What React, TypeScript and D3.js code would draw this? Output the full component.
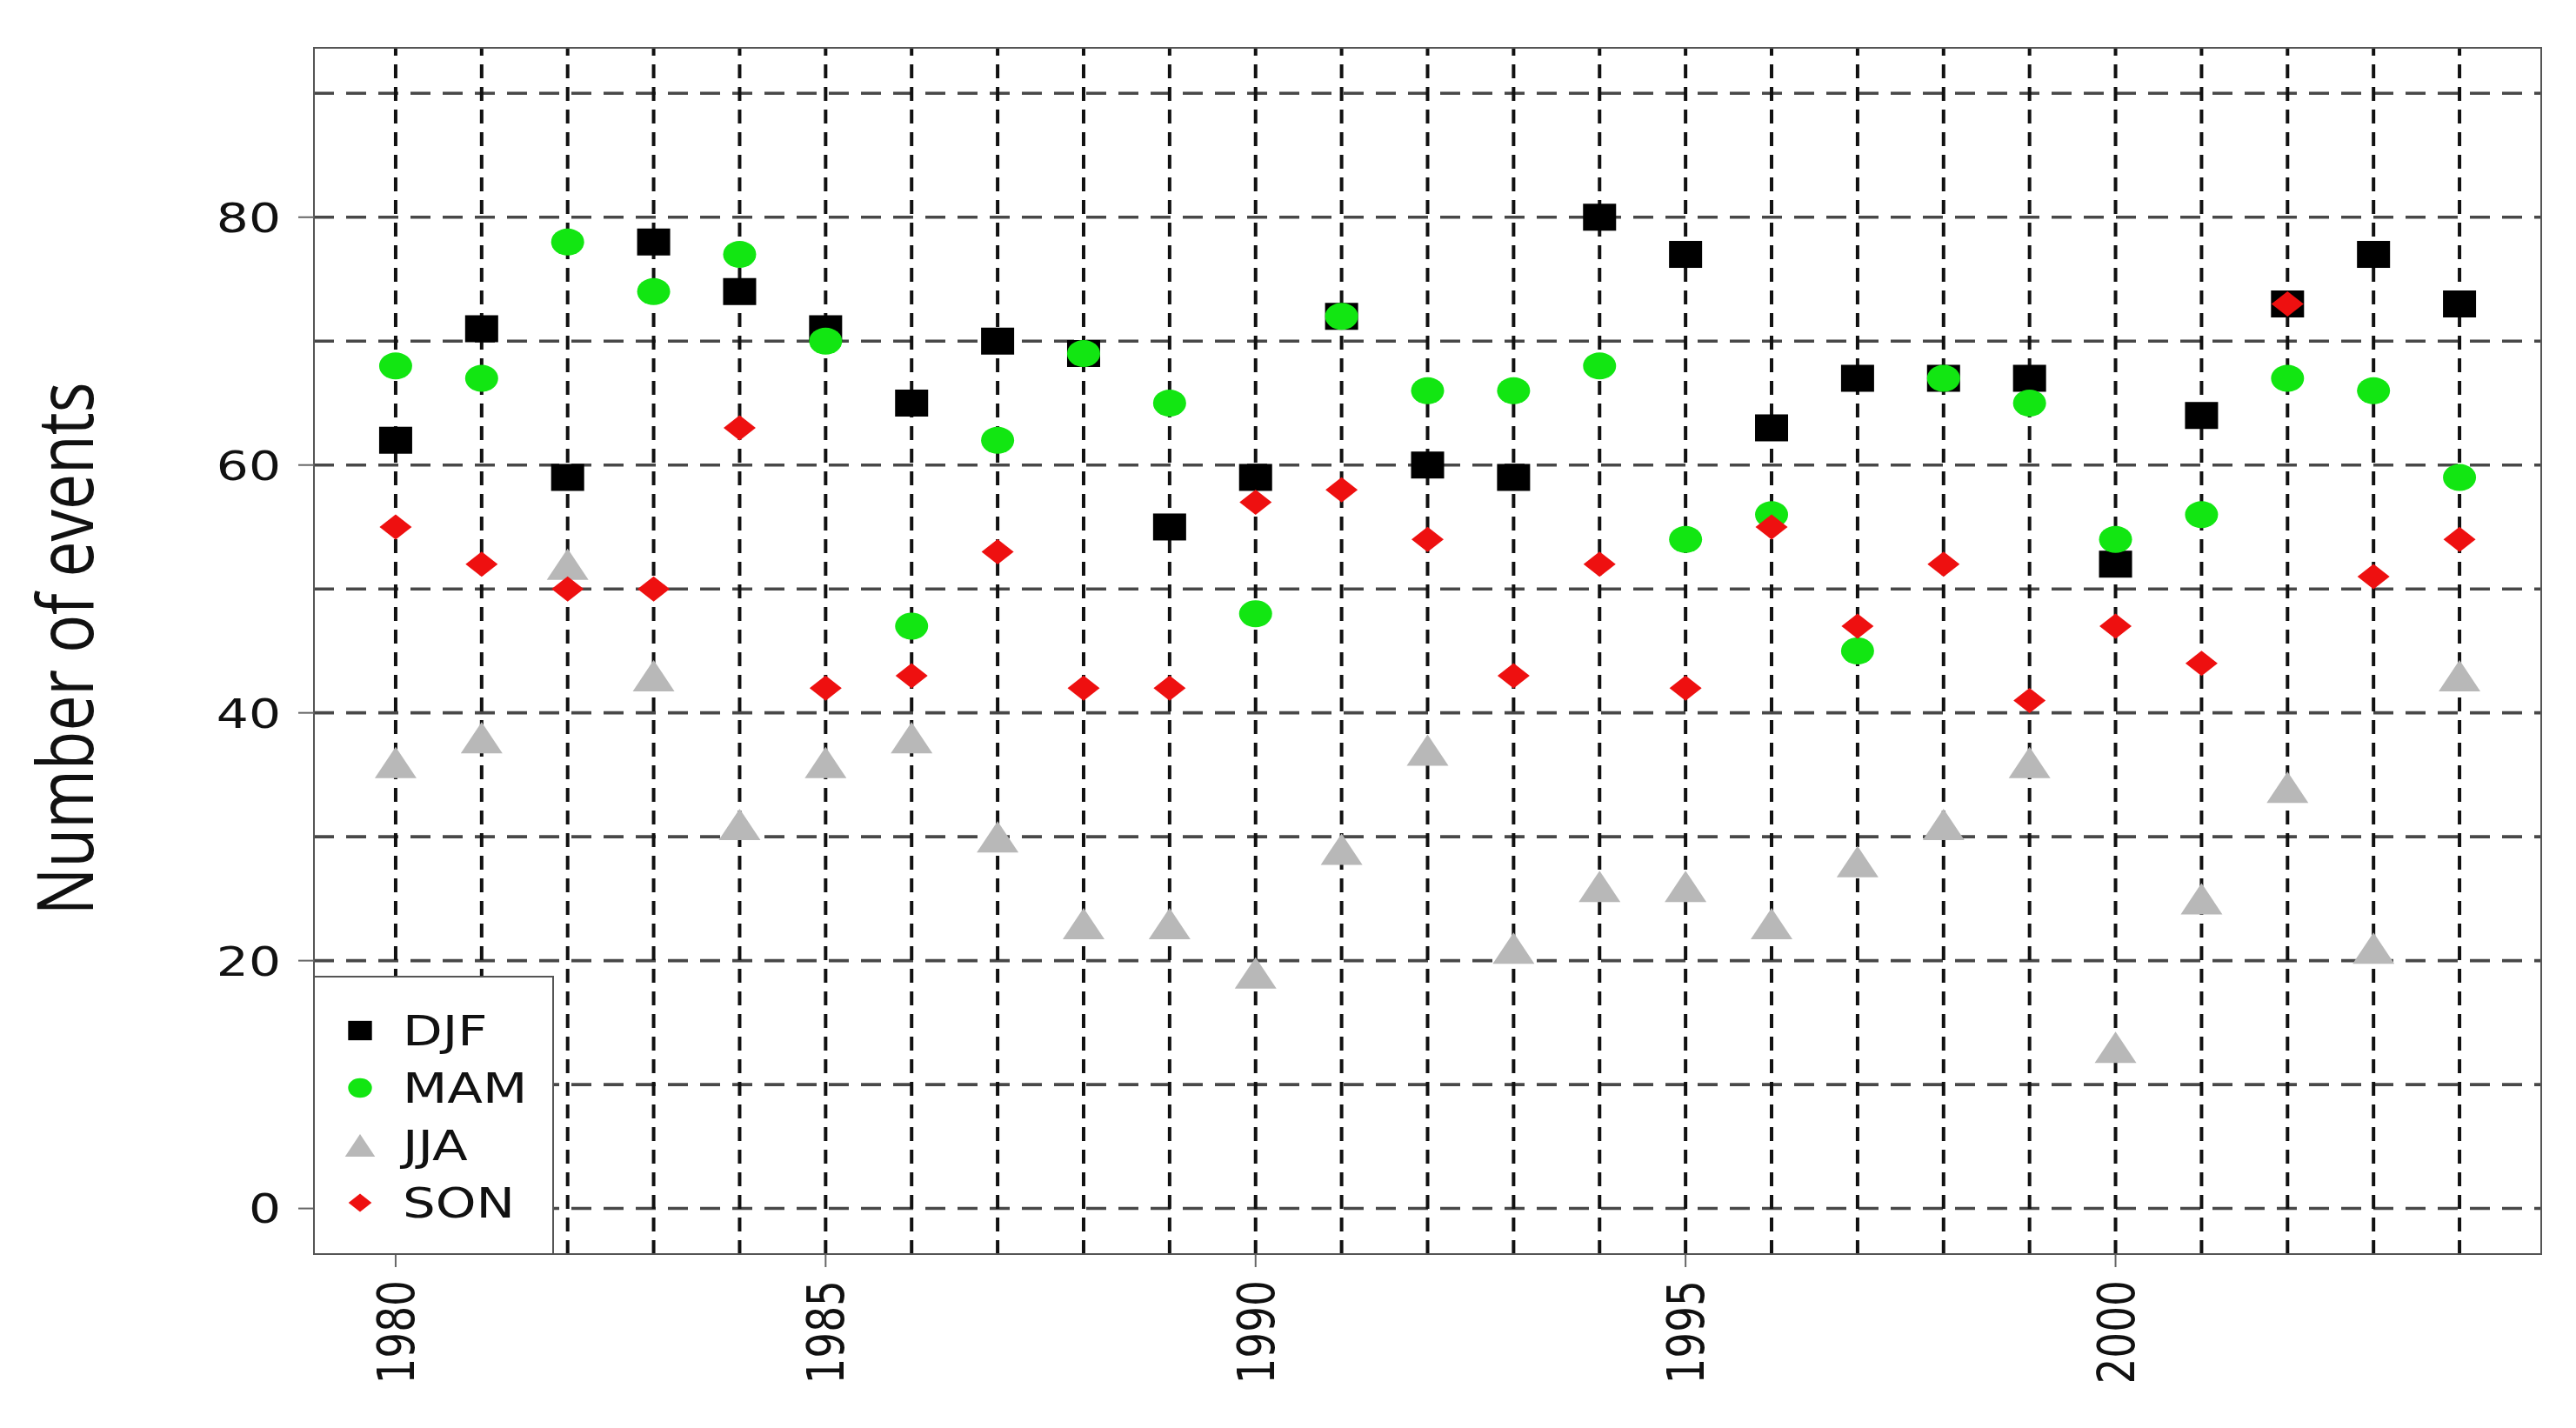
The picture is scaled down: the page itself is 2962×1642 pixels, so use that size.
import React from "react";
import * as d3 from "d3";

const years = [1980, 1981, 1982, 1983, 1984, 1985, 1986, 1987, 1988, 1989, 1990, 1991, 1992, 1993, 1994, 1995, 1996, 1997, 1998, 1999, 2000, 2001, 2002, 2003, 2004];
const djf = [62, 71, 59, 78, 74, 71, 65, 70, 69, 55, 59, 72, 60, 59, 80, 77, 63, 67, 67, 67, 52, 64, 73, 77, 73];
const mam = [68, 67, 78, 74, 77, 70, 47, 62, 69, 65, 48, 72, 66, 66, 68, 54, 56, 45, 67, 65, 54, 56, 67, 66, 59];
const jja = [36, 38, 52, 43, 31, 36, 38, 30, 23, 23, 19, 29, 37, 21, 26, 26, 23, 28, 31, 36, 13, 25, 34, 21, 43];
const son = [55, 52, 50, 50, 63, 42, 43, 53, 42, 42, 57, 58, 54, 43, 52, 42, 55, 47, 52, 41, 47, 44, 73, 51, 54];

const seriesNames = ["DJF", "MAM", "JJA", "SON"];
const yTicks = [0, 20, 40, 60, 80];
const yGrid = [0, 10, 20, 30, 40, 50, 60, 70, 80, 90];
const xTicks = [1980, 1985, 1990, 1995, 2000];
const yLabel = "Number of events";

const W = 2962;
const H = 1642;
const L = 361, R = 2922, T = 55, B = 1442;
const SX = 1.24;

const x = d3.scaleLinear().domain([1979.05, 2004.95]).range([L, R]);
const y = d3.scaleLinear().domain([-3.68, 93.67]).range([B, T]);

const colors: Record<string, string> = {
  DJF: "#000000",
  MAM: "#12e612",
  JJA: "#b8b8b8",
  SON: "#ee1010",
};

function Marker({ kind, cx, cy, s = 1 }: { kind: string; cx: number; cy: number; s?: number }) {
  const c = colors[kind];
  if (kind === "DJF") {
    const w = 38 * s, h = 31 * s;
    return <rect x={cx - w / 2} y={cy - h / 2} width={w} height={h} fill={c} />;
  }
  if (kind === "MAM") {
    return <ellipse cx={cx} cy={cy} rx={19 * s} ry={15.5 * s} fill={c} />;
  }
  if (kind === "JJA") {
    const w = 48 * s, h = 36 * s;
    const p = d3.path();
    p.moveTo(cx, cy - h / 2);
    p.lineTo(cx + w / 2, cy + h / 2);
    p.lineTo(cx - w / 2, cy + h / 2);
    p.closePath();
    return <path d={p.toString()} fill={c} />;
  }
  const w = 37 * s, h = 29 * s;
  const p = d3.path();
  p.moveTo(cx, cy - h / 2);
  p.lineTo(cx + w / 2, cy);
  p.lineTo(cx, cy + h / 2);
  p.lineTo(cx - w / 2, cy);
  p.closePath();
  return <path d={p.toString()} fill={c} />;
}

export default function App() {
  const data: Record<string, number[]> = { DJF: djf, MAM: mam, JJA: jja, SON: son };
  const tickFont = "DejaVu Sans";
  const legX = 414;
  const legY0 = 1185;
  const legDy = 66;
  return (
    <svg
      width={W}
      height={H}
      viewBox={`0 0 ${W} ${H}`}
      style={{ position: "absolute", left: 0, top: 0, background: "#fff" }}
    >
      <rect x={0} y={0} width={W} height={H} fill="#fff" />
      {/* horizontal grid */}
      {yGrid.map((v) => (
        <line key={"h" + v} x1={L} x2={R} y1={y(v)} y2={y(v)} stroke="#484848" strokeWidth={3.6} strokeDasharray="23 14" />
      ))}
      {/* vertical grid */}
      {years.map((yr) => (
        <line key={"v" + yr} x1={x(yr)} x2={x(yr)} y1={B} y2={T} stroke="#111" strokeWidth={4} strokeDasharray="16 10" />
      ))}
      {/* markers */}
      {seriesNames.map((name) => (
        <g key={name}>
          {data[name].map((v, i) => (
            <Marker key={i} kind={name} cx={x(years[i])} cy={y(v)} />
          ))}
        </g>
      ))}
      {/* frame */}
      <rect x={L} y={T} width={R - L} height={B - T} fill="none" stroke="#555" strokeWidth={2} />
      {/* y ticks */}
      {yTicks.map((v) => (
        <g key={"yt" + v}>
          <line x1={L - 18} x2={L} y1={y(v)} y2={y(v)} stroke="#666" strokeWidth={2} />
          <text
            transform={`translate(${L - 38},${y(v)}) scale(${SX},1)`}
            textAnchor="end"
            dy="0.36em"
            fontFamily={tickFont}
            fontSize={47}
            fill="#111"
          >
            {v}
          </text>
        </g>
      ))}
      {/* x ticks */}
      {xTicks.map((v) => (
        <g key={"xt" + v}>
          <line x1={x(v)} x2={x(v)} y1={B} y2={B + 15} stroke="#666" strokeWidth={2} />
          <text
            transform={`translate(${x(v)},${B + 30}) scale(${SX},1) rotate(-90)`}
            textAnchor="end"
            dy="0.36em"
            fontFamily={tickFont}
            fontSize={47}
            fill="#111"
          >
            {v}
          </text>
        </g>
      ))}
      {/* y label */}
      <text
        transform={`translate(107,746) scale(${SX},1) rotate(-90)`}
        textAnchor="middle"
        fontFamily="Open Sans"
        fontSize={73}
        fill="#111"
      >
        {yLabel}
      </text>
      {/* legend */}
      <rect x={L} y={1123} width={636 - L} height={B - 1123} fill="#fff" stroke="#555" strokeWidth={2} />
      {seriesNames.map((name, i) => (
        <g key={"leg" + name}>
          <Marker kind={name} cx={legX} cy={legY0 + i * legDy} s={0.72} />
          <text
            transform={`translate(463,${legY0 + i * legDy}) scale(${SX},1)`}
            dy="0.36em"
            fontFamily={tickFont}
            fontSize={48}
            fill="#111"
          >
            {name}
          </text>
        </g>
      ))}
    </svg>
  );
}
